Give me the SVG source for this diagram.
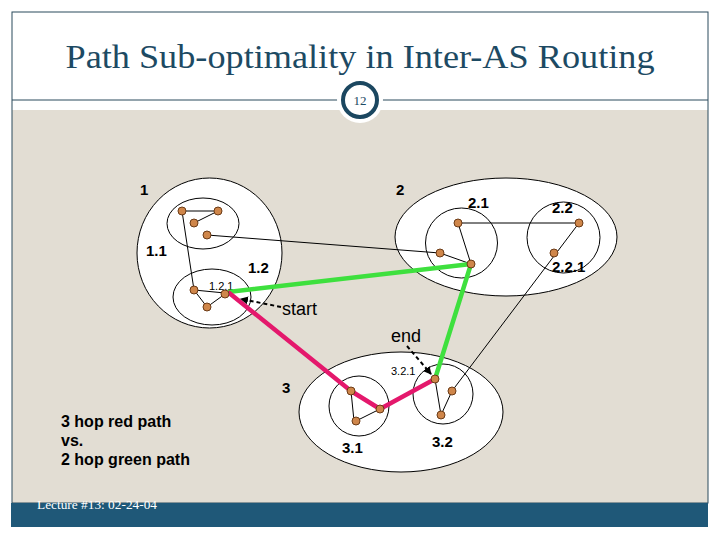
<svg xmlns="http://www.w3.org/2000/svg" width="720" height="540" viewBox="0 0 720 540">
<style>
.as{fill:#ffffff;stroke:#000;stroke-width:1}
.sub{fill:none;stroke:#000;stroke-width:1}
.e{stroke:#000;stroke-width:1;fill:none}
.n{fill:#cf864a;stroke:#6b3b17;stroke-width:1}
.lb{font-family:"Liberation Sans",Arial,sans-serif;font-size:15px;font-weight:bold;fill:#000}
.sm{font-family:"Liberation Sans",Arial,sans-serif;font-size:11px;fill:#000}
.big{font-family:"Liberation Sans",Arial,sans-serif;font-size:18px;fill:#000}
.note{font-family:"Liberation Sans",Arial,sans-serif;font-size:16px;font-weight:bold;fill:#000}
.dash{stroke:#000;stroke-width:2;stroke-dasharray:4,3;fill:none}
</style>
<defs>
<marker id="ah" markerWidth="8" markerHeight="8" refX="7" refY="4" orient="auto" markerUnits="userSpaceOnUse">
<path d="M0,0 L8,4 L0,8 Z" fill="#000"/>
</marker>
</defs>
<rect x="0" y="0" width="720" height="540" fill="#ffffff"/>
<rect x="12" y="110" width="696" height="393" fill="#e2ddd3"/>
<rect x="12" y="12" width="696" height="491" fill="none" stroke="#2a4a5c" stroke-width="1"/>
<line x1="12" y1="100" x2="708" y2="100" stroke="#2a4a5c" stroke-width="1"/>
<rect x="11" y="503" width="697" height="24" fill="#1f5878"/>
<text x="360" y="68" text-anchor="middle" font-family="'Liberation Serif','DejaVu Serif',serif" font-size="34" fill="#1d4a63" textLength="589" lengthAdjust="spacingAndGlyphs">Path Sub-optimality in Inter-AS Routing</text>
<circle cx="360" cy="100" r="23" fill="#ffffff"/>
<circle cx="360" cy="100" r="17" fill="#ffffff" stroke="#1b4760" stroke-width="4"/>
<text x="360" y="105" text-anchor="middle" font-family="'Liberation Serif',serif" font-size="13" fill="#1d4a63">12</text>
<text x="37" y="509" font-family="'Liberation Serif',serif" font-size="12" fill="#ffffff" textLength="120" lengthAdjust="spacingAndGlyphs">Lecture #13: 02-24-04</text>

<g id="as1">
<ellipse class="as" cx="209.5" cy="253" rx="72.5" ry="75"/>
<text class="lb" x="140" y="195">1</text>
</g>
<g id="as1-1">
<ellipse class="sub" cx="203" cy="223.5" rx="36" ry="25.5"/>
<text class="lb" x="146" y="256">1.1</text>
</g>
<g id="as1-2">
<ellipse class="sub" cx="212" cy="297" rx="39" ry="28"/>
<text class="lb" x="248" y="273">1.2</text>
<text class="sm" x="209" y="290">1.2.1</text>
</g>
<g id="as2">
<ellipse class="as" cx="506" cy="237" rx="111" ry="59"/>
<text class="lb" x="396" y="195">2</text>
</g>
<g id="as2-1">
<ellipse class="sub" cx="461.5" cy="243" rx="36" ry="35"/>
<text class="lb" x="468" y="208">2.1</text>
</g>
<g id="as2-2">
<ellipse class="sub" cx="563.5" cy="237.5" rx="36.5" ry="35.5"/>
<text class="lb" x="552" y="213">2.2</text>
<text class="lb" x="552" y="272">2.2.1</text>
</g>
<g id="as3">
<ellipse class="as" cx="401" cy="412" rx="102" ry="60"/>
<text class="lb" x="282" y="393">3</text>
</g>
<g id="as3-1">
<ellipse class="sub" cx="359" cy="406" rx="30" ry="30"/>
<text class="lb" x="342" y="453">3.1</text>
</g>
<g id="as3-2">
<ellipse class="sub" cx="443" cy="394" rx="30" ry="30"/>
<text class="lb" x="432" y="447">3.2</text>
<text class="sm" x="391" y="375">3.2.1</text>
</g>

<g id="connectors">
<line class="e" x1="182" y1="211" x2="218" y2="211"/>
<line class="e" x1="218" y1="211" x2="194" y2="223"/>
<line class="e" x1="182" y1="211" x2="194" y2="290"/>
<line class="e" x1="194" y1="290" x2="225" y2="293"/>
<line class="e" x1="194" y1="290" x2="207" y2="307"/>
<line class="e" x1="207" y1="307" x2="225" y2="294"/>
<line class="e" x1="207" y1="235" x2="440" y2="253"/>
<line class="e" x1="458" y1="223" x2="579" y2="223"/>
<line class="e" x1="458" y1="223" x2="471" y2="264"/>
<line class="e" x1="440" y1="253" x2="471" y2="264"/>
<line class="e" x1="579" y1="223" x2="452" y2="391"/>
<line class="e" x1="351" y1="391" x2="354" y2="421"/>
<line class="e" x1="356" y1="421" x2="380" y2="409"/>
<line class="e" x1="435" y1="379" x2="441" y2="415"/>
<line class="e" x1="441" y1="415" x2="452" y2="391"/>
<polyline points="228,292 471,264 435,379" fill="none" stroke="#3ee03e" stroke-width="4.5" stroke-linejoin="round"/>
<polyline points="228,292 351,391 380,409 435,379" fill="none" stroke="#e4186c" stroke-width="4.5" stroke-linejoin="round"/>
<line class="dash" x1="281" y1="307" x2="241" y2="299" marker-end="url(#ah)"/>
<line class="dash" x1="407" y1="346" x2="431" y2="374" marker-end="url(#ah)"/>
</g>

<g id="routers">
<circle class="n" cx="182" cy="211" r="4"/>
<circle class="n" cx="218" cy="211" r="4"/>
<circle class="n" cx="194" cy="223" r="4"/>
<circle class="n" cx="207" cy="235" r="4"/>
<circle class="n" cx="194" cy="290" r="4"/>
<circle class="n" cx="225" cy="294" r="4"/>
<circle class="n" cx="207" cy="307" r="4"/>
<circle class="n" cx="458" cy="223" r="4"/>
<circle class="n" cx="440" cy="253" r="4"/>
<circle class="n" cx="471" cy="264" r="4"/>
<circle class="n" cx="579" cy="223" r="4"/>
<circle class="n" cx="554" cy="253" r="4"/>
<circle class="n" cx="351" cy="391" r="4"/>
<circle class="n" cx="380" cy="409" r="4"/>
<circle class="n" cx="356" cy="421" r="4"/>
<circle class="n" cx="435" cy="379" r="4"/>
<circle class="n" cx="452" cy="391" r="4"/>
<circle class="n" cx="441" cy="415" r="4"/>
</g>

<text class="big" x="282" y="315">start</text>
<text class="big" x="391" y="342">end</text>
<text class="note" x="61" y="427">3 hop red path</text>
<text class="note" x="61" y="446">vs.</text>
<text class="note" x="61" y="465">2 hop green path</text>
</svg>
